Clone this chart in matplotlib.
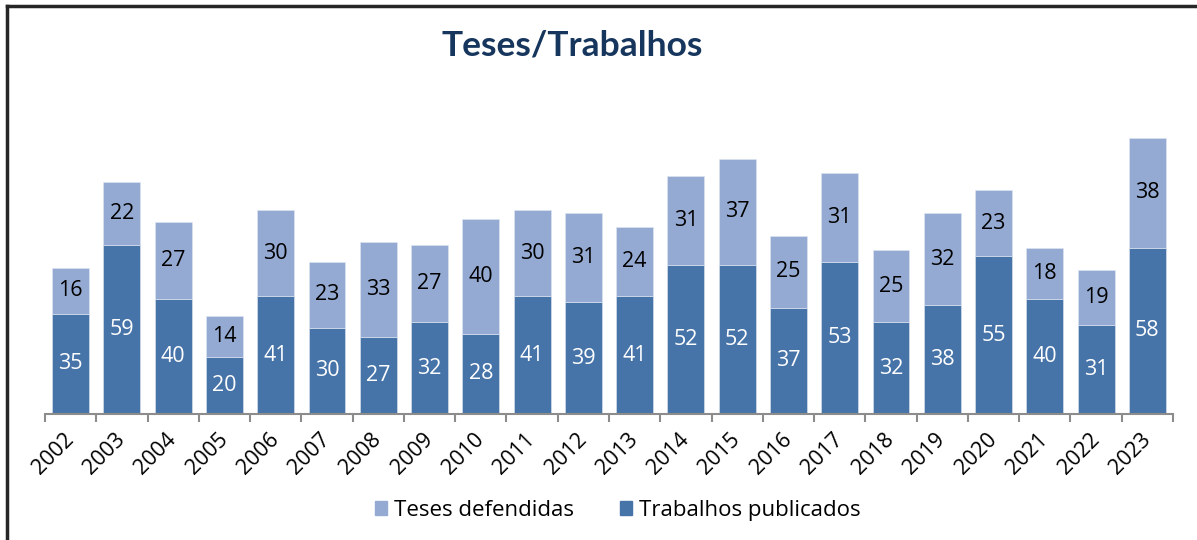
import matplotlib
matplotlib.use("Agg")
import matplotlib.pyplot as plt
import numpy as np
from matplotlib.lines import Line2D

years = ["2002","2003","2004","2005","2006","2007","2008","2009","2010","2011","2012",
         "2013","2014","2015","2016","2017","2018","2019","2020","2021","2022","2023"]
trabalhos = [35,59,40,20,41,30,27,32,28,41,39,41,52,52,37,53,32,38,55,40,31,58]
teses = [16,22,27,14,30,23,33,27,40,30,31,24,31,37,25,31,25,32,23,18,19,38]

plt.rcParams['font.family'] = ['Open Sans', 'DejaVu Sans']

dark = "#4673a8"
light = "#95aad2"

fig = plt.figure(figsize=(11.97, 5.40), dpi=100)
ax = fig.add_axes([45/1197, 1-414/540, (1173-45)/1197, (414-100)/540])

x = np.arange(len(years))
w = 0.72
ax.bar(x, trabalhos, w, color=dark, edgecolor="#dfe6f1", linewidth=0.4, label="Trabalhos publicados", zorder=2)
ax.bar(x, teses, w, bottom=trabalhos, color=light, edgecolor="#dfe6f1", linewidth=0.4, label="Teses defendidas", zorder=2)

for xi, t, s in zip(x, trabalhos, teses):
    ax.text(xi, t/2, str(t), ha="center", va="center", color="white", fontsize=15.5)
    ax.text(xi, t + s/2, str(s), ha="center", va="center", color="black", fontsize=15.5)

ax.set_xlim(-0.5, len(years)-0.5)
ax.set_ylim(0, 109.4)
for sp in ["top", "right", "left"]:
    ax.spines[sp].set_visible(False)
ax.spines["bottom"].set_color("#8c8c8c")
ax.spines["bottom"].set_linewidth(1.5)
ax.set_yticks([])
ax.set_xticks(x)
ax.set_xticklabels(years, rotation=45, ha="right", va="center", rotation_mode="anchor", fontsize=15.5)
ax.tick_params(axis="x", which="major", length=0, pad=16)
ax.set_xticks(np.arange(-0.5, len(years), 1.0), minor=True)
ax.tick_params(axis="x", which="minor", length=6, width=1.5, color="#8c8c8c", direction="out")

fig.text(0.478, 0.915, "Teses/Trabalhos", ha="center", va="center", fontsize=25.5,
         fontweight="bold", color="#17365d", family=["Lato", "DejaVu Sans"])

handles = [plt.Rectangle((0, 0), 1, 1, color=light), plt.Rectangle((0, 0), 1, 1, color=dark)]
fig.legend(handles, ["Teses defendidas", "Trabalhos publicados"], loc="center",
           bbox_to_anchor=(0.516, 0.055), ncol=2, frameon=False, fontsize=16,
           handlelength=0.55, handleheight=0.55, handletextpad=0.3, columnspacing=2.1)

fig.add_artist(Line2D([7/1197, 7/1197], [0, 1-6/540], color="#262626", lw=2.5, transform=fig.transFigure))
fig.add_artist(Line2D([7/1197, 1], [1-6/540, 1-6/540], color="#262626", lw=2.5, transform=fig.transFigure))

fig.savefig("out.png", dpi=100)
